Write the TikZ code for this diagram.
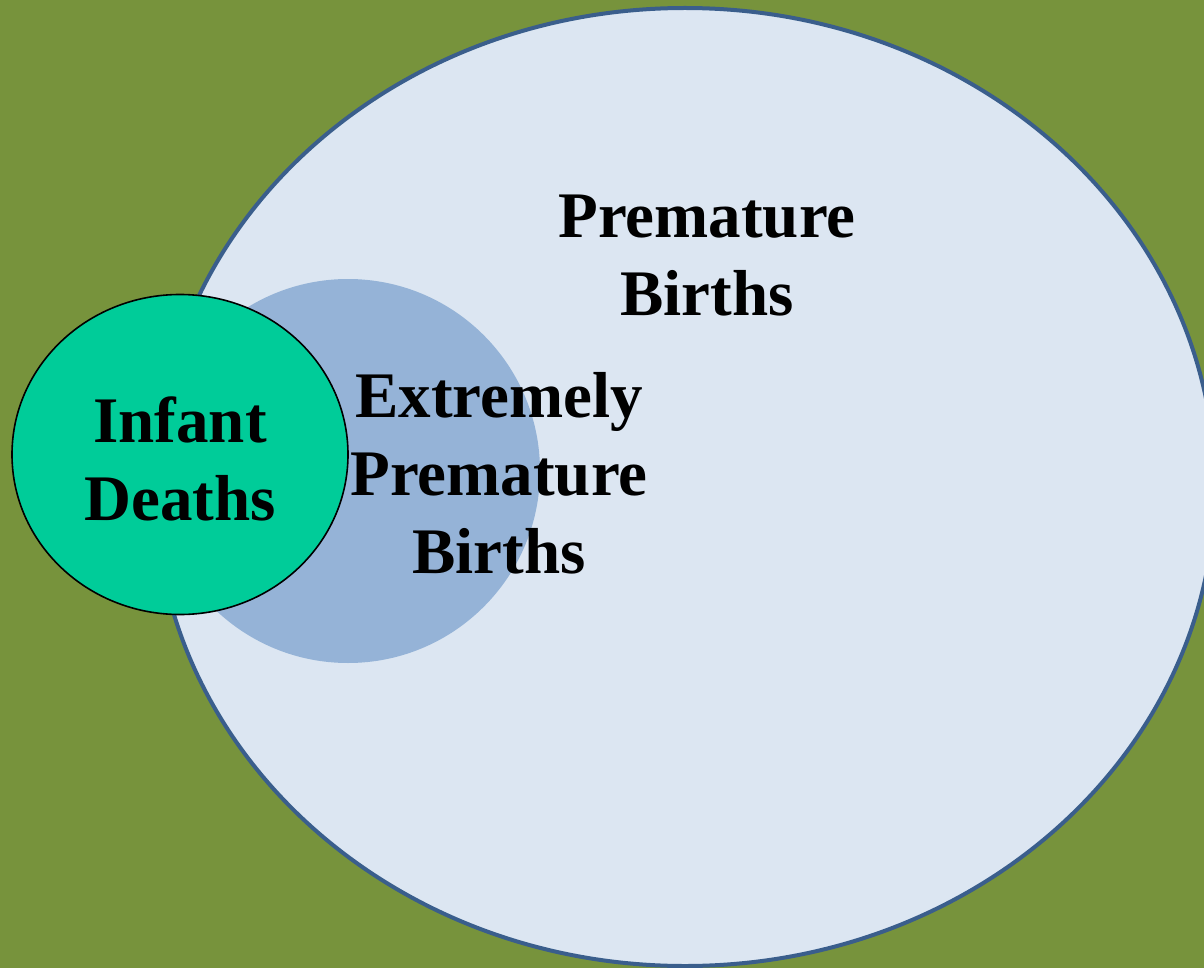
\documentclass[tikz,border=0pt]{standalone}
\usepackage{fontspec}
\setmainfont{Liberation Serif}
\usetikzlibrary{shapes.geometric}
\definecolor{bggreen}{HTML}{77933C}
\definecolor{paleblue}{HTML}{DCE6F2}
\definecolor{midblue}{HTML}{95B3D7}
\definecolor{rimblue}{HTML}{3A5E8C}
\definecolor{infantgreen}{HTML}{00CC99}
\begin{document}
\begin{tikzpicture}[x=1pt,y=-1pt,
  lbl/.style={font=\fontsize{65}{78}\selectfont\bfseries, align=center, anchor=north, inner sep=0pt}]
\path[fill=bggreen, use as bounding box] (0,0) rectangle (1204,968);
% large ellipse: premature births
\draw[fill=paleblue, draw=rimblue, line width=4pt] (685,487) ellipse [x radius=530pt, y radius=479pt];
% medium circle: extremely premature births
\fill[midblue] (348,471) circle [radius=192pt];
% small ellipse: infant deaths
\draw[fill=infantgreen, draw=black, line width=1.6pt] (180,454.5) ellipse [x radius=168pt, y radius=160pt];
% labels
\node[lbl] (pb) at (707,195) {Premature\\Births};
\node[lbl] (epb) at (499,372) {Extremely\\Premature\\Births};
\node[lbl] (id) at (180,397) {Infant\\Deaths};
\end{tikzpicture}
\end{document}
